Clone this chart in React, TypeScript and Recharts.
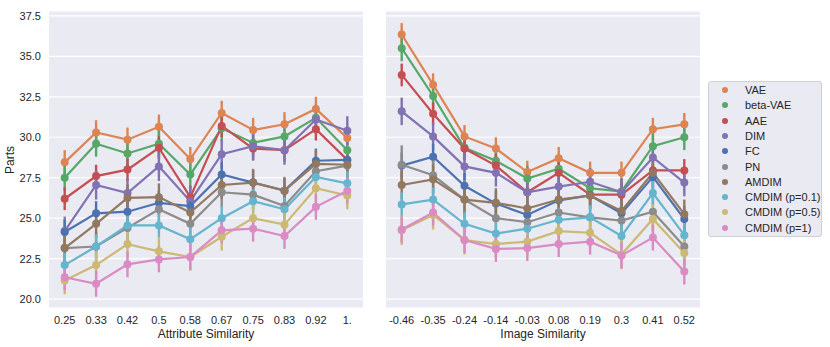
import React from "react";
import { CartesianGrid, ErrorBar, Line, LineChart, XAxis, YAxis } from "recharts";

// x categories
const attrSim = ["0.25", "0.33", "0.42", "0.5", "0.58", "0.67", "0.75", "0.83", "0.92", "1."];
const imgSim = ["-0.46", "-0.35", "-0.24", "-0.14", "-0.03", "0.08", "0.19", "0.3", "0.41", "0.52"];

const seriesNames = [
  "VAE",
  "beta-VAE",
  "AAE",
  "DIM",
  "FC",
  "PN",
  "AMDIM",
  "CMDIM (p=0.1)",
  "CMDIM (p=0.5)",
  "CMDIM (p=1)",
];
const seriesColors = [
  "#dd8452",
  "#55a868",
  "#c44e52",
  "#8172b3",
  "#4c72b0",
  "#8c8c8c",
  "#937860",
  "#64b5cd",
  "#ccb974",
  "#da8bc3",
];

// Parts vs attribute similarity
const attrVAE = [28.45, 30.3, 29.85, 30.65, 28.65, 31.5, 30.45, 30.8, 31.75, 29.95];
const attrBetaVAE = [27.5, 29.6, 29.0, 29.6, 27.7, 30.55, 29.65, 30.05, 31.2, 29.2];
const attrAAE = [26.2, 27.6, 28.0, 29.35, 26.3, 30.7, 29.3, 29.2, 30.5, 28.6];
const attrDIM = [24.2, 27.05, 26.55, 28.2, 26.05, 28.95, 29.45, 29.2, 31.1, 30.4];
const attrFC = [24.15, 25.3, 25.4, 25.95, 25.75, 27.7, 27.2, 26.7, 28.55, 28.6];
const attrPN = [23.15, 23.25, 24.4, 25.55, 24.65, 26.6, 26.45, 25.75, 27.9, 28.25];
const attrAMDIM = [23.15, 24.65, 26.25, 26.3, 25.35, 27.05, 27.2, 26.7, 28.35, 28.3];
const attrCMDIM01 = [22.1, 23.25, 24.55, 24.55, 23.7, 25.0, 26.05, 25.55, 27.55, 27.15];
const attrCMDIM05 = [21.15, 22.1, 23.4, 22.95, 22.6, 23.85, 25.0, 24.6, 26.85, 26.4];
const attrCMDIM1 = [21.35, 20.95, 22.15, 22.45, 22.6, 24.25, 24.35, 23.9, 25.7, 26.7];

// Parts vs image similarity
const imgVAE = [36.35, 33.25, 30.05, 29.3, 27.85, 28.7, 27.8, 27.8, 30.5, 30.8];
const imgBetaVAE = [35.5, 32.55, 29.35, 28.55, 27.45, 28.05, 26.85, 26.65, 29.45, 30.0];
const imgAAE = [33.85, 31.45, 29.3, 28.25, 26.6, 27.8, 26.45, 26.45, 27.95, 27.95];
const imgDIM = [31.6, 30.05, 28.2, 27.8, 26.6, 26.95, 27.25, 26.6, 28.75, 27.2];
const imgFC = [28.25, 28.8, 27.0, 25.9, 25.2, 26.1, 26.4, 25.3, 27.55, 24.95];
const imgPN = [28.3, 27.65, 26.15, 25.0, 24.75, 25.35, 25.05, 24.85, 25.4, 23.25];
const imgAMDIM = [27.05, 27.4, 26.15, 25.95, 25.6, 26.15, 26.4, 25.45, 27.8, 25.25];
const imgCMDIM01 = [25.85, 26.15, 24.65, 24.05, 24.35, 24.9, 25.05, 23.9, 26.55, 23.95];
const imgCMDIM05 = [24.25, 25.2, 23.65, 23.4, 23.55, 24.2, 24.1, 22.75, 24.95, 22.85];
const imgCMDIM1 = [24.3, 25.35, 23.65, 23.1, 23.15, 23.4, 23.55, 22.7, 23.8, 21.7];

// typical confidence-interval half widths, one per series
const attrCI = [0.75, 0.8, 0.7, 0.9, 0.75, 0.9, 0.85, 0.75, 0.85, 0.8];
const imgCI = [0.7, 0.8, 0.7, 0.85, 0.8, 1.2, 0.9, 0.75, 0.9, 0.8];

const attrSeries = [attrVAE, attrBetaVAE, attrAAE, attrDIM, attrFC, attrPN, attrAMDIM, attrCMDIM01, attrCMDIM05, attrCMDIM1];
const imgSeries = [imgVAE, imgBetaVAE, imgAAE, imgDIM, imgFC, imgPN, imgAMDIM, imgCMDIM01, imgCMDIM05, imgCMDIM1];

const yTicks = [20, 22.5, 25, 27.5, 30, 32.5, 35, 37.5];
const FONT = "'Liberation Sans', Arial, sans-serif";
const TEXT = "#262626";

function buildRows(cats: string[], series: number[][], ci: number[]) {
  return cats.map((c, i) => {
    const row: Record<string, string | number> = { x: c };
    series.forEach((vals, s) => {
      row[`s${s}`] = vals[i];
      row[`e${s}`] = ci[s];
    });
    return row;
  });
}

const attrRows = buildRows(attrSim, attrSeries, attrCI);
const imgRows = buildRows(imgSim, imgSeries, imgCI);

function Panel({ rows, showY }: { rows: Record<string, string | number>[]; showY: boolean }) {
  return (
    <LineChart
      width={showY ? 370 : 314}
      height={347}
      data={rows}
      margin={{ top: 11, right: showY ? 7 : 0, bottom: 0, left: 0 }}
    >
      <CartesianGrid fill="#eaeaf2" stroke="#ffffff" strokeWidth={1.2} vertical={false} />
      <XAxis
        dataKey="x"
        type="category"
        height={39}
        padding={{ left: 15.7, right: 15.7 }}
        axisLine={false}
        tickLine={false}
        interval={0}
        tick={{ fill: TEXT, fontSize: 11, fontFamily: FONT }}
      />
      <YAxis
        hide={!showY}
        width={49}
        domain={[19.45, 37.8]}
        ticks={yTicks}
        allowDataOverflow
        axisLine={false}
        tickLine={false}
        tickFormatter={(v: number) => v.toFixed(1)}
        tick={{ fill: TEXT, fontSize: 11, fontFamily: FONT }}
      />
      {seriesNames.map((name, s) => (
        <Line
          key={name}
          name={name}
          dataKey={`s${s}`}
          type="linear"
          stroke={seriesColors[s]}
          strokeWidth={2.2}
          dot={{ r: 4, fill: seriesColors[s], stroke: "none" }}
          activeDot={false}
          isAnimationActive={false}
        >
          <ErrorBar dataKey={`e${s}`} direction="y" width={0} stroke={seriesColors[s]} strokeWidth={2.4} />
        </Line>
      ))}
    </LineChart>
  );
}

export default function App() {
  return (
    <div
      style={{
        position: "absolute",
        left: 0,
        top: 0,
        width: 830,
        height: 347,
        background: "#ffffff",
        fontFamily: FONT,
        color: TEXT,
      }}
    >
      <div style={{ position: "absolute", left: 0, top: 0 }}>
        <Panel rows={attrRows} showY />
      </div>
      <div style={{ position: "absolute", left: 386, top: 0 }}>
        <Panel rows={imgRows} showY={false} />
      </div>

      <div
        style={{
          position: "absolute",
          left: 10,
          top: 160,
          fontSize: 12,
          transform: "translate(-50%, -50%) rotate(-90deg)",
          whiteSpace: "nowrap",
        }}
      >
        Parts
      </div>
      <div style={{ position: "absolute", left: 49, width: 314, top: 327, fontSize: 12, textAlign: "center" }}>
        Attribute Similarity
      </div>
      <div style={{ position: "absolute", left: 386, width: 314, top: 327, fontSize: 12, textAlign: "center" }}>
        Image Similarity
      </div>

      <div
        style={{
          position: "absolute",
          left: 708,
          top: 81,
          width: 114,
          height: 156,
          background: "#eaeaf2",
          border: "1px solid #cfcfd6",
          borderRadius: 3,
          boxSizing: "border-box",
        }}
      >
        {seriesNames.map((name, s) => (
          <div
            key={name}
            style={{
              position: "absolute",
              left: 0,
              top: 8 + s * 15.3 - 8,
              height: 16,
              display: "flex",
              alignItems: "center",
              fontSize: 11,
              whiteSpace: "nowrap",
            }}
          >
            <span
              style={{
                display: "inline-block",
                width: 6,
                height: 6,
                borderRadius: 3,
                background: seriesColors[s],
                marginLeft: 13,
                marginRight: 17,
              }}
            />
            {name}
          </div>
        ))}
      </div>
    </div>
  );
}
